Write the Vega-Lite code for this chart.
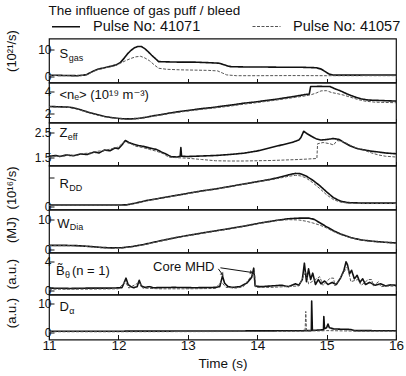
{
"$schema": "https://vega.github.io/schema/vega-lite/v6.json",
"padding": {"left": 4, "top": 3.5, "right": 4, "bottom": 2},
"title": {"text": "The influence of gas puff / bleed", "anchor": "start", "dx": 44, "fontSize": 13.5, "fontWeight": "normal", "font": "Liberation Sans", "color": "#111", "offset": -5.5},
"spacing": 0,
"bounds": "flush",
"datasets": {
"sgas": [
{"pulse":"41071","t":11.0,"v":0.5},{"pulse":"41071","t":11.2,"v":0.4},{"pulse":"41071","t":11.4,"v":0.3},{"pulse":"41071","t":11.5,"v":0.5},{"pulse":"41071","t":11.55,"v":0.8},{"pulse":"41071","t":11.62,"v":1.8},{"pulse":"41071","t":11.7,"v":2.7},{"pulse":"41071","t":11.8,"v":3.3},{"pulse":"41071","t":11.9,"v":3.9},{"pulse":"41071","t":11.97,"v":4.4},{"pulse":"41071","t":12.03,"v":5.3},{"pulse":"41071","t":12.08,"v":6.8},{"pulse":"41071","t":12.13,"v":8.5},{"pulse":"41071","t":12.18,"v":9.8},{"pulse":"41071","t":12.23,"v":10.8},{"pulse":"41071","t":12.28,"v":11.3},{"pulse":"41071","t":12.33,"v":11.3},{"pulse":"41071","t":12.38,"v":10.5},{"pulse":"41071","t":12.43,"v":9.3},{"pulse":"41071","t":12.48,"v":8.0},{"pulse":"41071","t":12.53,"v":6.8},{"pulse":"41071","t":12.58,"v":5.6},{"pulse":"41071","t":12.7,"v":5.5},{"pulse":"41071","t":12.9,"v":5.4},{"pulse":"41071","t":13.1,"v":5.4},{"pulse":"41071","t":13.3,"v":5.2},{"pulse":"41071","t":13.45,"v":5.0},{"pulse":"41071","t":13.5,"v":4.6},{"pulse":"41071","t":13.57,"v":4.0},{"pulse":"41071","t":13.62,"v":3.7},{"pulse":"41071","t":13.8,"v":3.6},{"pulse":"41071","t":14.0,"v":3.6},{"pulse":"41071","t":14.3,"v":3.5},{"pulse":"41071","t":14.6,"v":3.5},{"pulse":"41071","t":14.85,"v":3.3},{"pulse":"41071","t":14.92,"v":2.8},{"pulse":"41071","t":14.97,"v":2.0},{"pulse":"41071","t":15.03,"v":1.0},{"pulse":"41071","t":15.1,"v":0.5},{"pulse":"41071","t":15.3,"v":0.5},{"pulse":"41071","t":15.6,"v":0.55},{"pulse":"41071","t":16.0,"v":0.55},
{"pulse":"41057","t":11.0,"v":0.4},{"pulse":"41057","t":11.2,"v":0.3},{"pulse":"41057","t":11.4,"v":0.25},{"pulse":"41057","t":11.5,"v":0.4},{"pulse":"41057","t":11.55,"v":0.7},{"pulse":"41057","t":11.62,"v":1.7},{"pulse":"41057","t":11.7,"v":2.6},{"pulse":"41057","t":11.8,"v":3.2},{"pulse":"41057","t":11.9,"v":3.8},{"pulse":"41057","t":11.97,"v":4.2},{"pulse":"41057","t":12.03,"v":5.0},{"pulse":"41057","t":12.1,"v":5.9},{"pulse":"41057","t":12.18,"v":6.8},{"pulse":"41057","t":12.25,"v":7.4},{"pulse":"41057","t":12.32,"v":7.6},{"pulse":"41057","t":12.38,"v":7.0},{"pulse":"41057","t":12.45,"v":5.9},{"pulse":"41057","t":12.52,"v":4.3},{"pulse":"41057","t":12.58,"v":3.1},{"pulse":"41057","t":12.7,"v":2.7},{"pulse":"41057","t":12.9,"v":2.5},{"pulse":"41057","t":13.1,"v":2.4},{"pulse":"41057","t":13.3,"v":2.3},{"pulse":"41057","t":13.43,"v":2.1},{"pulse":"41057","t":13.5,"v":1.3},{"pulse":"41057","t":13.56,"v":0.6},{"pulse":"41057","t":13.7,"v":0.3},{"pulse":"41057","t":14.0,"v":0.3},{"pulse":"41057","t":14.5,"v":0.35},{"pulse":"41057","t":15.0,"v":0.3},{"pulse":"41057","t":15.5,"v":0.3},{"pulse":"41057","t":16.0,"v":0.3}
],
"ne": [
{"pulse":"41071","t":11.0,"v":2.65},{"pulse":"41071","t":11.15,"v":2.62},{"pulse":"41071","t":11.3,"v":2.58},{"pulse":"41071","t":11.4,"v":2.45},{"pulse":"41071","t":11.5,"v":2.25},{"pulse":"41071","t":11.6,"v":2.05},{"pulse":"41071","t":11.7,"v":1.88},{"pulse":"41071","t":11.8,"v":1.72},{"pulse":"41071","t":11.9,"v":1.62},{"pulse":"41071","t":12.0,"v":1.54},{"pulse":"41071","t":12.1,"v":1.5},{"pulse":"41071","t":12.2,"v":1.5},{"pulse":"41071","t":12.3,"v":1.55},{"pulse":"41071","t":12.4,"v":1.65},{"pulse":"41071","t":12.5,"v":1.78},{"pulse":"41071","t":12.6,"v":1.88},{"pulse":"41071","t":12.75,"v":2.05},{"pulse":"41071","t":12.9,"v":2.2},{"pulse":"41071","t":13.05,"v":2.32},{"pulse":"41071","t":13.2,"v":2.45},{"pulse":"41071","t":13.35,"v":2.55},{"pulse":"41071","t":13.5,"v":2.68},{"pulse":"41071","t":13.65,"v":2.8},{"pulse":"41071","t":13.8,"v":2.95},{"pulse":"41071","t":13.95,"v":3.05},{"pulse":"41071","t":14.1,"v":3.18},{"pulse":"41071","t":14.25,"v":3.3},{"pulse":"41071","t":14.4,"v":3.45},{"pulse":"41071","t":14.55,"v":3.6},{"pulse":"41071","t":14.68,"v":3.75},{"pulse":"41071","t":14.75,"v":3.8},{"pulse":"41071","t":14.77,"v":4.5},{"pulse":"41071","t":14.9,"v":4.52},{"pulse":"41071","t":15.05,"v":4.5},{"pulse":"41071","t":15.12,"v":4.3},{"pulse":"41071","t":15.2,"v":4.1},{"pulse":"41071","t":15.3,"v":3.8},{"pulse":"41071","t":15.4,"v":3.55},{"pulse":"41071","t":15.5,"v":3.35},{"pulse":"41071","t":15.6,"v":3.25},{"pulse":"41071","t":15.8,"v":3.2},{"pulse":"41071","t":16.0,"v":3.15},
{"pulse":"41057","t":11.0,"v":2.62},{"pulse":"41057","t":11.15,"v":2.6},{"pulse":"41057","t":11.3,"v":2.55},{"pulse":"41057","t":11.4,"v":2.42},{"pulse":"41057","t":11.5,"v":2.22},{"pulse":"41057","t":11.6,"v":2.02},{"pulse":"41057","t":11.7,"v":1.85},{"pulse":"41057","t":11.8,"v":1.7},{"pulse":"41057","t":11.9,"v":1.6},{"pulse":"41057","t":12.0,"v":1.52},{"pulse":"41057","t":12.1,"v":1.48},{"pulse":"41057","t":12.2,"v":1.49},{"pulse":"41057","t":12.3,"v":1.53},{"pulse":"41057","t":12.4,"v":1.62},{"pulse":"41057","t":12.5,"v":1.74},{"pulse":"41057","t":12.6,"v":1.84},{"pulse":"41057","t":12.75,"v":2.0},{"pulse":"41057","t":12.9,"v":2.14},{"pulse":"41057","t":13.05,"v":2.26},{"pulse":"41057","t":13.2,"v":2.38},{"pulse":"41057","t":13.35,"v":2.48},{"pulse":"41057","t":13.5,"v":2.6},{"pulse":"41057","t":13.65,"v":2.72},{"pulse":"41057","t":13.8,"v":2.86},{"pulse":"41057","t":13.95,"v":2.97},{"pulse":"41057","t":14.1,"v":3.1},{"pulse":"41057","t":14.25,"v":3.22},{"pulse":"41057","t":14.4,"v":3.36},{"pulse":"41057","t":14.55,"v":3.5},{"pulse":"41057","t":14.68,"v":3.62},{"pulse":"41057","t":14.78,"v":3.75},{"pulse":"41057","t":14.85,"v":3.9},{"pulse":"41057","t":14.92,"v":4.1},{"pulse":"41057","t":15.0,"v":4.12},{"pulse":"41057","t":15.07,"v":3.95},{"pulse":"41057","t":15.15,"v":3.85},{"pulse":"41057","t":15.25,"v":3.7},{"pulse":"41057","t":15.35,"v":3.5},{"pulse":"41057","t":15.45,"v":3.3},{"pulse":"41057","t":15.55,"v":3.15},{"pulse":"41057","t":15.7,"v":3.05},{"pulse":"41057","t":16.0,"v":3.0}
],
"zeff": [
{"pulse":"41071","t":11.0,"v":1.55},{"pulse":"41071","t":11.1,"v":1.58},{"pulse":"41071","t":11.15,"v":1.54},{"pulse":"41071","t":11.25,"v":1.6},{"pulse":"41071","t":11.35,"v":1.57},{"pulse":"41071","t":11.45,"v":1.64},{"pulse":"41071","t":11.55,"v":1.62},{"pulse":"41071","t":11.65,"v":1.72},{"pulse":"41071","t":11.72,"v":1.68},{"pulse":"41071","t":11.8,"v":1.8},{"pulse":"41071","t":11.88,"v":1.77},{"pulse":"41071","t":11.95,"v":1.88},{"pulse":"41071","t":12.0,"v":1.85},{"pulse":"41071","t":12.05,"v":2.0},{"pulse":"41071","t":12.1,"v":2.18},{"pulse":"41071","t":12.15,"v":2.1},{"pulse":"41071","t":12.2,"v":2.05},{"pulse":"41071","t":12.28,"v":1.98},{"pulse":"41071","t":12.35,"v":1.95},{"pulse":"41071","t":12.45,"v":1.88},{"pulse":"41071","t":12.55,"v":1.82},{"pulse":"41071","t":12.62,"v":1.72},{"pulse":"41071","t":12.7,"v":1.62},{"pulse":"41071","t":12.76,"v":1.53},{"pulse":"41071","t":12.85,"v":1.52},{"pulse":"41071","t":12.89,"v":1.55},{"pulse":"41071","t":12.9,"v":1.9},{"pulse":"41071","t":12.91,"v":1.55},{"pulse":"41071","t":13.0,"v":1.54},{"pulse":"41071","t":13.2,"v":1.56},{"pulse":"41071","t":13.4,"v":1.58},{"pulse":"41071","t":13.6,"v":1.62},{"pulse":"41071","t":13.8,"v":1.67},{"pulse":"41071","t":14.0,"v":1.76},{"pulse":"41071","t":14.2,"v":1.9},{"pulse":"41071","t":14.35,"v":2.0},{"pulse":"41071","t":14.5,"v":2.1},{"pulse":"41071","t":14.6,"v":2.2},{"pulse":"41071","t":14.63,"v":2.3},{"pulse":"41071","t":14.67,"v":2.55},{"pulse":"41071","t":14.72,"v":2.45},{"pulse":"41071","t":14.78,"v":2.35},{"pulse":"41071","t":14.85,"v":2.25},{"pulse":"41071","t":14.92,"v":2.2},{"pulse":"41071","t":15.0,"v":2.22},{"pulse":"41071","t":15.1,"v":2.26},{"pulse":"41071","t":15.18,"v":2.22},{"pulse":"41071","t":15.25,"v":2.1},{"pulse":"41071","t":15.35,"v":1.95},{"pulse":"41071","t":15.45,"v":1.85},{"pulse":"41071","t":15.55,"v":1.8},{"pulse":"41071","t":15.65,"v":1.75},{"pulse":"41071","t":15.75,"v":1.72},{"pulse":"41071","t":15.85,"v":1.68},{"pulse":"41071","t":16.0,"v":1.65},
{"pulse":"41057","t":11.0,"v":1.5},{"pulse":"41057","t":11.1,"v":1.56},{"pulse":"41057","t":11.2,"v":1.55},{"pulse":"41057","t":11.3,"v":1.6},{"pulse":"41057","t":11.4,"v":1.58},{"pulse":"41057","t":11.5,"v":1.66},{"pulse":"41057","t":11.6,"v":1.68},{"pulse":"41057","t":11.7,"v":1.75},{"pulse":"41057","t":11.8,"v":1.78},{"pulse":"41057","t":11.9,"v":1.85},{"pulse":"41057","t":12.0,"v":1.92},{"pulse":"41057","t":12.05,"v":2.05},{"pulse":"41057","t":12.1,"v":2.12},{"pulse":"41057","t":12.18,"v":2.05},{"pulse":"41057","t":12.25,"v":1.95},{"pulse":"41057","t":12.35,"v":1.9},{"pulse":"41057","t":12.45,"v":1.82},{"pulse":"41057","t":12.55,"v":1.75},{"pulse":"41057","t":12.65,"v":1.65},{"pulse":"41057","t":12.72,"v":1.52},{"pulse":"41057","t":12.8,"v":1.5},{"pulse":"41057","t":13.0,"v":1.47},{"pulse":"41057","t":13.2,"v":1.42},{"pulse":"41057","t":13.4,"v":1.37},{"pulse":"41057","t":13.6,"v":1.36},{"pulse":"41057","t":13.8,"v":1.36},{"pulse":"41057","t":14.0,"v":1.37},{"pulse":"41057","t":14.2,"v":1.38},{"pulse":"41057","t":14.4,"v":1.4},{"pulse":"41057","t":14.6,"v":1.42},{"pulse":"41057","t":14.8,"v":1.45},{"pulse":"41057","t":14.86,"v":1.46},{"pulse":"41057","t":14.87,"v":2.05},{"pulse":"41057","t":14.95,"v":2.1},{"pulse":"41057","t":15.05,"v":2.05},{"pulse":"41057","t":15.1,"v":2.0},{"pulse":"41057","t":15.15,"v":2.18},{"pulse":"41057","t":15.25,"v":2.12},{"pulse":"41057","t":15.35,"v":1.98},{"pulse":"41057","t":15.45,"v":1.85},{"pulse":"41057","t":15.55,"v":1.78},{"pulse":"41057","t":15.65,"v":1.68},{"pulse":"41057","t":15.75,"v":1.6},{"pulse":"41057","t":15.85,"v":1.55},{"pulse":"41057","t":16.0,"v":1.52}
],
"rdd": [
{"pulse":"41071","t":11.0,"v":0.2},{"pulse":"41071","t":11.5,"v":0.2},{"pulse":"41071","t":12.0,"v":0.2},{"pulse":"41071","t":12.12,"v":0.22},{"pulse":"41071","t":12.25,"v":0.4},{"pulse":"41071","t":12.4,"v":0.65},{"pulse":"41071","t":12.6,"v":0.9},{"pulse":"41071","t":12.8,"v":1.15},{"pulse":"41071","t":13.0,"v":1.4},{"pulse":"41071","t":13.2,"v":1.65},{"pulse":"41071","t":13.4,"v":1.85},{"pulse":"41071","t":13.6,"v":2.1},{"pulse":"41071","t":13.8,"v":2.35},{"pulse":"41071","t":14.0,"v":2.6},{"pulse":"41071","t":14.2,"v":2.85},{"pulse":"41071","t":14.35,"v":3.1},{"pulse":"41071","t":14.45,"v":3.3},{"pulse":"41071","t":14.55,"v":3.45},{"pulse":"41071","t":14.62,"v":3.42},{"pulse":"41071","t":14.7,"v":3.2},{"pulse":"41071","t":14.8,"v":2.75},{"pulse":"41071","t":14.9,"v":2.2},{"pulse":"41071","t":15.0,"v":1.55},{"pulse":"41071","t":15.1,"v":0.95},{"pulse":"41071","t":15.2,"v":0.6},{"pulse":"41071","t":15.3,"v":0.45},{"pulse":"41071","t":15.5,"v":0.4},{"pulse":"41071","t":16.0,"v":0.4},
{"pulse":"41057","t":11.0,"v":0.15},{"pulse":"41057","t":12.0,"v":0.15},{"pulse":"41057","t":12.12,"v":0.2},{"pulse":"41057","t":12.25,"v":0.38},{"pulse":"41057","t":12.4,"v":0.62},{"pulse":"41057","t":12.6,"v":0.88},{"pulse":"41057","t":12.8,"v":1.12},{"pulse":"41057","t":13.0,"v":1.37},{"pulse":"41057","t":13.2,"v":1.62},{"pulse":"41057","t":13.4,"v":1.82},{"pulse":"41057","t":13.6,"v":2.07},{"pulse":"41057","t":13.8,"v":2.32},{"pulse":"41057","t":14.0,"v":2.57},{"pulse":"41057","t":14.2,"v":2.8},{"pulse":"41057","t":14.35,"v":3.0},{"pulse":"41057","t":14.45,"v":3.15},{"pulse":"41057","t":14.55,"v":3.25},{"pulse":"41057","t":14.62,"v":3.2},{"pulse":"41057","t":14.7,"v":3.0},{"pulse":"41057","t":14.8,"v":2.5},{"pulse":"41057","t":14.9,"v":1.9},{"pulse":"41057","t":15.0,"v":1.25},{"pulse":"41057","t":15.1,"v":0.75},{"pulse":"41057","t":15.2,"v":0.5},{"pulse":"41057","t":15.3,"v":0.4},{"pulse":"41057","t":15.5,"v":0.35},{"pulse":"41057","t":16.0,"v":0.35}
],
"wdia": [
{"pulse":"41071","t":11.0,"v":1.4},{"pulse":"41071","t":11.2,"v":1.4},{"pulse":"41071","t":11.4,"v":1.3},{"pulse":"41071","t":11.6,"v":1.0},{"pulse":"41071","t":11.75,"v":0.7},{"pulse":"41071","t":11.9,"v":0.55},{"pulse":"41071","t":12.05,"v":0.6},{"pulse":"41071","t":12.2,"v":1.0},{"pulse":"41071","t":12.37,"v":1.7},{"pulse":"41071","t":12.6,"v":2.9},{"pulse":"41071","t":12.85,"v":4.1},{"pulse":"41071","t":13.1,"v":5.1},{"pulse":"41071","t":13.33,"v":6.0},{"pulse":"41071","t":13.6,"v":7.0},{"pulse":"41071","t":13.8,"v":7.8},{"pulse":"41071","t":14.05,"v":8.9},{"pulse":"41071","t":14.29,"v":9.8},{"pulse":"41071","t":14.45,"v":10.3},{"pulse":"41071","t":14.6,"v":10.5},{"pulse":"41071","t":14.75,"v":10.5},{"pulse":"41071","t":14.82,"v":10.1},{"pulse":"41071","t":14.9,"v":9.0},{"pulse":"41071","t":15.0,"v":7.6},{"pulse":"41071","t":15.1,"v":6.3},{"pulse":"41071","t":15.2,"v":5.2},{"pulse":"41071","t":15.35,"v":4.0},{"pulse":"41071","t":15.5,"v":3.2},{"pulse":"41071","t":15.65,"v":2.8},{"pulse":"41071","t":15.8,"v":2.5},{"pulse":"41071","t":16.0,"v":2.2},
{"pulse":"41057","t":11.0,"v":1.3},{"pulse":"41057","t":11.2,"v":1.3},{"pulse":"41057","t":11.4,"v":1.2},{"pulse":"41057","t":11.6,"v":0.9},{"pulse":"41057","t":11.75,"v":0.6},{"pulse":"41057","t":11.9,"v":0.45},{"pulse":"41057","t":12.05,"v":0.5},{"pulse":"41057","t":12.2,"v":0.9},{"pulse":"41057","t":12.37,"v":1.6},{"pulse":"41057","t":12.6,"v":2.8},{"pulse":"41057","t":12.85,"v":4.0},{"pulse":"41057","t":13.1,"v":5.0},{"pulse":"41057","t":13.33,"v":5.9},{"pulse":"41057","t":13.6,"v":6.9},{"pulse":"41057","t":13.8,"v":7.7},{"pulse":"41057","t":14.05,"v":8.8},{"pulse":"41057","t":14.29,"v":9.7},{"pulse":"41057","t":14.45,"v":10.0},{"pulse":"41057","t":14.6,"v":9.9},{"pulse":"41057","t":14.7,"v":9.5},{"pulse":"41057","t":14.8,"v":8.9},{"pulse":"41057","t":14.9,"v":8.2},{"pulse":"41057","t":15.0,"v":7.2},{"pulse":"41057","t":15.1,"v":6.0},{"pulse":"41057","t":15.2,"v":5.0},{"pulse":"41057","t":15.35,"v":3.9},{"pulse":"41057","t":15.5,"v":3.1},{"pulse":"41057","t":15.65,"v":2.7},{"pulse":"41057","t":15.8,"v":2.4},{"pulse":"41057","t":16.0,"v":2.1}
],
"bth": [
{"pulse":"41071","t":11.0,"v":0.3},{"pulse":"41071","t":11.3,"v":0.25},{"pulse":"41071","t":11.6,"v":0.3},{"pulse":"41071","t":11.9,"v":0.3},{"pulse":"41071","t":12.05,"v":0.35},{"pulse":"41071","t":12.08,"v":1.0},{"pulse":"41071","t":12.11,"v":1.7},{"pulse":"41071","t":12.14,"v":0.8},{"pulse":"41071","t":12.18,"v":0.5},{"pulse":"41071","t":12.22,"v":0.35},{"pulse":"41071","t":12.27,"v":0.5},{"pulse":"41071","t":12.3,"v":1.4},{"pulse":"41071","t":12.33,"v":0.6},{"pulse":"41071","t":12.38,"v":0.4},{"pulse":"41071","t":12.45,"v":0.5},{"pulse":"41071","t":12.5,"v":0.35},{"pulse":"41071","t":12.8,"v":0.4},{"pulse":"41071","t":13.1,"v":0.35},{"pulse":"41071","t":13.4,"v":0.4},{"pulse":"41071","t":13.46,"v":0.5},{"pulse":"41071","t":13.5,"v":2.0},{"pulse":"41071","t":13.53,"v":1.0},{"pulse":"41071","t":13.58,"v":0.5},{"pulse":"41071","t":13.65,"v":0.4},{"pulse":"41071","t":13.75,"v":0.5},{"pulse":"41071","t":13.85,"v":1.0},{"pulse":"41071","t":13.92,"v":1.8},{"pulse":"41071","t":13.95,"v":3.1},{"pulse":"41071","t":13.97,"v":0.6},{"pulse":"41071","t":14.05,"v":0.5},{"pulse":"41071","t":14.2,"v":0.6},{"pulse":"41071","t":14.35,"v":0.7},{"pulse":"41071","t":14.45,"v":0.5},{"pulse":"41071","t":14.55,"v":0.9},{"pulse":"41071","t":14.6,"v":0.7},{"pulse":"41071","t":14.65,"v":1.5},{"pulse":"41071","t":14.68,"v":3.8},{"pulse":"41071","t":14.71,"v":1.2},{"pulse":"41071","t":14.74,"v":3.0},{"pulse":"41071","t":14.77,"v":1.5},{"pulse":"41071","t":14.8,"v":2.4},{"pulse":"41071","t":14.84,"v":0.8},{"pulse":"41071","t":14.88,"v":1.5},{"pulse":"41071","t":14.92,"v":0.9},{"pulse":"41071","t":14.97,"v":1.3},{"pulse":"41071","t":15.02,"v":0.8},{"pulse":"41071","t":15.08,"v":1.1},{"pulse":"41071","t":15.14,"v":0.8},{"pulse":"41071","t":15.2,"v":1.7},{"pulse":"41071","t":15.25,"v":2.8},{"pulse":"41071","t":15.28,"v":4.0},{"pulse":"41071","t":15.3,"v":3.6},{"pulse":"41071","t":15.33,"v":2.3},{"pulse":"41071","t":15.36,"v":2.8},{"pulse":"41071","t":15.4,"v":1.6},{"pulse":"41071","t":15.44,"v":2.1},{"pulse":"41071","t":15.48,"v":1.1},{"pulse":"41071","t":15.52,"v":1.6},{"pulse":"41071","t":15.56,"v":0.8},{"pulse":"41071","t":15.62,"v":1.1},{"pulse":"41071","t":15.7,"v":0.7},{"pulse":"41071","t":15.78,"v":0.9},{"pulse":"41071","t":15.85,"v":0.6},{"pulse":"41071","t":15.92,"v":0.75},{"pulse":"41071","t":16.0,"v":0.7},
{"pulse":"41057","t":11.0,"v":0.15},{"pulse":"41057","t":11.5,"v":0.15},{"pulse":"41057","t":12.0,"v":0.2},{"pulse":"41057","t":12.1,"v":1.2},{"pulse":"41057","t":12.15,"v":0.3},{"pulse":"41057","t":12.3,"v":1.1},{"pulse":"41057","t":12.35,"v":0.3},{"pulse":"41057","t":12.6,"v":0.2},{"pulse":"41057","t":13.0,"v":0.2},{"pulse":"41057","t":13.4,"v":0.25},{"pulse":"41057","t":13.48,"v":1.2},{"pulse":"41057","t":13.55,"v":0.4},{"pulse":"41057","t":13.7,"v":0.3},{"pulse":"41057","t":13.8,"v":0.5},{"pulse":"41057","t":13.9,"v":1.8},{"pulse":"41057","t":13.96,"v":2.6},{"pulse":"41057","t":13.98,"v":0.4},{"pulse":"41057","t":14.2,"v":0.4},{"pulse":"41057","t":14.4,"v":0.5},{"pulse":"41057","t":14.6,"v":0.6},{"pulse":"41057","t":14.7,"v":2.6},{"pulse":"41057","t":14.74,"v":0.9},{"pulse":"41057","t":14.9,"v":1.9},{"pulse":"41057","t":14.95,"v":0.7},{"pulse":"41057","t":15.05,"v":1.7},{"pulse":"41057","t":15.1,"v":1.7},{"pulse":"41057","t":15.12,"v":0.6},{"pulse":"41057","t":15.3,"v":3.3},{"pulse":"41057","t":15.35,"v":1.2},{"pulse":"41057","t":15.45,"v":1.5},{"pulse":"41057","t":15.5,"v":0.7},{"pulse":"41057","t":15.6,"v":1.5},{"pulse":"41057","t":15.65,"v":1.5},{"pulse":"41057","t":15.67,"v":0.6},{"pulse":"41057","t":15.75,"v":1.2},{"pulse":"41057","t":15.78,"v":0.5},{"pulse":"41057","t":15.9,"v":0.6},{"pulse":"41057","t":16.0,"v":0.55}
],
"dalpha": [
{"pulse":"41071","t":11.0,"v":0.3},{"pulse":"41071","t":12.0,"v":0.3},{"pulse":"41071","t":13.0,"v":0.35},{"pulse":"41071","t":14.0,"v":0.4},{"pulse":"41071","t":14.5,"v":0.45},{"pulse":"41071","t":14.78,"v":0.5},{"pulse":"41071","t":14.785,"v":10.8},{"pulse":"41071","t":14.795,"v":0.6},{"pulse":"41071","t":14.9,"v":0.7},{"pulse":"41071","t":14.955,"v":0.8},{"pulse":"41071","t":14.96,"v":5.4},{"pulse":"41071","t":14.97,"v":1.2},{"pulse":"41071","t":15.0,"v":1.5},{"pulse":"41071","t":15.02,"v":2.8},{"pulse":"41071","t":15.04,"v":1.5},{"pulse":"41071","t":15.1,"v":1.1},{"pulse":"41071","t":15.2,"v":1.0},{"pulse":"41071","t":15.35,"v":0.9},{"pulse":"41071","t":15.4,"v":0.5},{"pulse":"41071","t":16.0,"v":0.45},
{"pulse":"41057","t":11.0,"v":0.1},{"pulse":"41057","t":12.0,"v":0.1},{"pulse":"41057","t":13.0,"v":0.15},{"pulse":"41057","t":14.0,"v":0.2},{"pulse":"41057","t":14.69,"v":0.3},{"pulse":"41057","t":14.7,"v":7.2},{"pulse":"41057","t":14.71,"v":0.4},{"pulse":"41057","t":14.9,"v":0.4},{"pulse":"41057","t":15.0,"v":0.5},{"pulse":"41057","t":15.5,"v":0.3},{"pulse":"41057","t":16.0,"v":0.3}
],
"labels": [
{"panel":"sgas","t":11.15,"v":8.4,"label":"S"},
{"panel":"ne","t":11.15,"v":3.72,"label":"<nₑ> (10¹⁹ m⁻³)"},
{"panel":"zeff","t":11.15,"v":2.5,"label":"Z"},
{"panel":"rdd","t":11.15,"v":2.4,"label":"R"},
{"panel":"wdia","t":11.12,"v":8.7,"label":"W"},
{"panel":"bth","t":11.1,"v":2.7,"label":"B̃"},
{"panel":"bth","t":11.33,"v":2.7,"label":"(n = 1)"},
{"panel":"bth","t":12.5,"v":3.2,"label":"Core MHD"},
{"panel":"dalpha","t":11.15,"v":8.7,"label":"D"}
],
"subs": [
{"panel":"sgas","t":11.285,"v":7.0,"label":"gas"},
{"panel":"zeff","t":11.27,"v":2.33,"label":"eff"},
{"panel":"rdd","t":11.29,"v":2.0,"label":"DD"},
{"panel":"wdia","t":11.3,"v":7.5,"label":"Dia"},
{"panel":"bth","t":11.23,"v":2.1,"label":"θ"},
{"panel":"dalpha","t":11.29,"v":7.3,"label":"α"}
],
"arrows": [
{"t":13.44,"v":3.0,"t2":13.5,"v2":2.2},
{"t":13.47,"v":3.15,"t2":13.92,"v2":2.5}
]
},
"vconcat": [
{"width": 347, "height": 44,
 "layer": [
  {"data": {"name": "sgas"}, "mark": {"type": "line", "clip": true, "strokeJoin": "round"},
   "encoding": {
    "x": {"field": "t", "type": "quantitative", "scale": {"domain": [11, 16], "nice": false}, "axis": {"values": [11,12,13,14,15,16], "labels": false, "title": null, "tickSize": -4}},
    "y": {"field": "v", "type": "quantitative", "scale": {"domain": [-2.26, 14.3], "nice": false, "zero": false}, "axis": {"values": [0,5,10], "labelExpr": "datum.value == 5 ? '' : datum.label", "title": "(10²¹/s)", "titleX": -38, "titleY": 12}},
    "color": {"field": "pulse", "type": "nominal", "scale": {"domain": ["41071","41057"], "range": ["#111111","#555555"]}, "legend": {"title": null, "labelExpr": "'Pulse No: ' + datum.label"}},
    "strokeDash": {"field": "pulse", "type": "nominal", "scale": {"domain": ["41071","41057"], "range": [[1,0],[3,1.5]]}},
    "strokeWidth": {"field": "pulse", "type": "ordinal", "scale": {"domain": ["41071","41057"], "range": [1.6, 1.0]}}
   }},
  {"data": {"name": "labels"}, "transform": [{"filter": "datum.panel == 'sgas'"}], "mark": {"type": "text", "align": "left", "baseline": "middle", "fontSize": 13},
   "encoding": {"x": {"field": "t", "type": "quantitative"}, "y": {"field": "v", "type": "quantitative"}, "text": {"field": "label"}}},
  {"data": {"name": "subs"}, "transform": [{"filter": "datum.panel == 'sgas'"}], "mark": {"type": "text", "align": "left", "baseline": "middle", "fontSize": 9},
   "encoding": {"x": {"field": "t", "type": "quantitative"}, "y": {"field": "v", "type": "quantitative"}, "text": {"field": "label"}}}
 ]},
{"width": 347, "height": 40,
 "layer": [
  {"data": {"name": "ne"}, "mark": {"type": "line", "clip": true, "strokeJoin": "round"},
   "encoding": {
    "x": {"field": "t", "type": "quantitative", "scale": {"domain": [11, 16], "nice": false}, "axis": {"values": [11,12,13,14,15,16], "labels": false, "title": null, "tickSize": -4}},
    "y": {"field": "v", "type": "quantitative", "scale": {"domain": [1.16, 4.88], "nice": false, "zero": false}, "axis": {"values": [2,3,4], "labelExpr": "datum.value == 3 ? '' : datum.label", "title": null}},
    "color": {"field": "pulse", "type": "nominal", "scale": {"domain": ["41071","41057"], "range": ["#111111","#555555"]}, "legend": {"title": null, "labelExpr": "'Pulse No: ' + datum.label"}},
    "strokeDash": {"field": "pulse", "type": "nominal", "scale": {"domain": ["41071","41057"], "range": [[1,0],[3,1.5]]}},
    "strokeWidth": {"field": "pulse", "type": "ordinal", "scale": {"domain": ["41071","41057"], "range": [1.6, 1.0]}}
   }},
  {"data": {"name": "labels"}, "transform": [{"filter": "datum.panel == 'ne'"}], "mark": {"type": "text", "align": "left", "baseline": "middle", "fontSize": 13, "font": "Liberation Sans, DejaVu Sans"},
   "encoding": {"x": {"field": "t", "type": "quantitative"}, "y": {"field": "v", "type": "quantitative"}, "text": {"field": "label"}}}
 ]},
{"width": 347, "height": 43,
 "layer": [
  {"data": {"name": "zeff"}, "mark": {"type": "line", "clip": true, "strokeJoin": "round"},
   "encoding": {
    "x": {"field": "t", "type": "quantitative", "scale": {"domain": [11, 16], "nice": false}, "axis": {"values": [11,12,13,14,15,16], "labels": false, "title": null, "tickSize": -4}},
    "y": {"field": "v", "type": "quantitative", "scale": {"domain": [1.18, 2.9], "nice": false, "zero": false}, "axis": {"values": [1.5,2,2.5], "format": ".1f", "labelExpr": "datum.value == 2 ? '' : datum.label", "title": null}},
    "color": {"field": "pulse", "type": "nominal", "scale": {"domain": ["41071","41057"], "range": ["#111111","#555555"]}, "legend": {"title": null, "labelExpr": "'Pulse No: ' + datum.label"}},
    "strokeDash": {"field": "pulse", "type": "nominal", "scale": {"domain": ["41071","41057"], "range": [[1,0],[3,1.5]]}},
    "strokeWidth": {"field": "pulse", "type": "ordinal", "scale": {"domain": ["41071","41057"], "range": [1.6, 1.0]}}
   }},
  {"data": {"name": "labels"}, "transform": [{"filter": "datum.panel == 'zeff'"}], "mark": {"type": "text", "align": "left", "baseline": "middle", "fontSize": 13},
   "encoding": {"x": {"field": "t", "type": "quantitative"}, "y": {"field": "v", "type": "quantitative"}, "text": {"field": "label"}}},
  {"data": {"name": "subs"}, "transform": [{"filter": "datum.panel == 'zeff'"}], "mark": {"type": "text", "align": "left", "baseline": "middle", "fontSize": 9},
   "encoding": {"x": {"field": "t", "type": "quantitative"}, "y": {"field": "v", "type": "quantitative"}, "text": {"field": "label"}}}
 ]},
{"width": 347, "height": 44,
 "layer": [
  {"data": {"name": "rdd"}, "mark": {"type": "line", "clip": true, "strokeJoin": "round"},
   "encoding": {
    "x": {"field": "t", "type": "quantitative", "scale": {"domain": [11, 16], "nice": false}, "axis": {"values": [11,12,13,14,15,16], "labels": false, "title": null, "tickSize": -4}},
    "y": {"field": "v", "type": "quantitative", "scale": {"domain": [-0.26, 4.26], "nice": false, "zero": false}, "axis": {"values": [0,1,2,3], "labelExpr": "datum.value == 1 || datum.value == 3 ? '' : datum.label", "title": "(10¹⁶/s)", "titleX": -38, "titleY": 22}},
    "color": {"field": "pulse", "type": "nominal", "scale": {"domain": ["41071","41057"], "range": ["#111111","#555555"]}, "legend": {"title": null, "labelExpr": "'Pulse No: ' + datum.label"}},
    "strokeDash": {"field": "pulse", "type": "nominal", "scale": {"domain": ["41071","41057"], "range": [[1,0],[3,1.5]]}},
    "strokeWidth": {"field": "pulse", "type": "ordinal", "scale": {"domain": ["41071","41057"], "range": [1.6, 1.0]}}
   }},
  {"data": {"name": "labels"}, "transform": [{"filter": "datum.panel == 'rdd'"}], "mark": {"type": "text", "align": "left", "baseline": "middle", "fontSize": 13},
   "encoding": {"x": {"field": "t", "type": "quantitative"}, "y": {"field": "v", "type": "quantitative"}, "text": {"field": "label"}}},
  {"data": {"name": "subs"}, "transform": [{"filter": "datum.panel == 'rdd'"}], "mark": {"type": "text", "align": "left", "baseline": "middle", "fontSize": 9},
   "encoding": {"x": {"field": "t", "type": "quantitative"}, "y": {"field": "v", "type": "quantitative"}, "text": {"field": "label"}}}
 ]},
{"width": 347, "height": 43,
 "layer": [
  {"data": {"name": "wdia"}, "mark": {"type": "line", "clip": true, "strokeJoin": "round"},
   "encoding": {
    "x": {"field": "t", "type": "quantitative", "scale": {"domain": [11, 16], "nice": false}, "axis": {"values": [11,12,13,14,15,16], "labels": false, "title": null, "tickSize": -4}},
    "y": {"field": "v", "type": "quantitative", "scale": {"domain": [-1.0, 13.4], "nice": false, "zero": false}, "axis": {"values": [0,5,10], "title": "(MJ)", "titleX": -38, "titleY": 20}},
    "color": {"field": "pulse", "type": "nominal", "scale": {"domain": ["41071","41057"], "range": ["#111111","#555555"]}, "legend": {"title": null, "labelExpr": "'Pulse No: ' + datum.label"}},
    "strokeDash": {"field": "pulse", "type": "nominal", "scale": {"domain": ["41071","41057"], "range": [[1,0],[3,1.5]]}},
    "strokeWidth": {"field": "pulse", "type": "ordinal", "scale": {"domain": ["41071","41057"], "range": [1.6, 1.0]}}
   }},
  {"data": {"name": "labels"}, "transform": [{"filter": "datum.panel == 'wdia'"}], "mark": {"type": "text", "align": "left", "baseline": "middle", "fontSize": 13},
   "encoding": {"x": {"field": "t", "type": "quantitative"}, "y": {"field": "v", "type": "quantitative"}, "text": {"field": "label"}}},
  {"data": {"name": "subs"}, "transform": [{"filter": "datum.panel == 'wdia'"}], "mark": {"type": "text", "align": "left", "baseline": "middle", "fontSize": 9},
   "encoding": {"x": {"field": "t", "type": "quantitative"}, "y": {"field": "v", "type": "quantitative"}, "text": {"field": "label"}}}
 ]},
{"width": 347, "height": 42,
 "layer": [
  {"data": {"name": "bth"}, "mark": {"type": "line", "clip": true, "strokeJoin": "round"},
   "encoding": {
    "x": {"field": "t", "type": "quantitative", "scale": {"domain": [11, 16], "nice": false}, "axis": {"values": [11,12,13,14,15,16], "labels": false, "title": null, "tickSize": -4}},
    "y": {"field": "v", "type": "quantitative", "scale": {"domain": [-0.6, 5.3], "nice": false, "zero": false}, "axis": {"values": [0,1,2,3,4], "labelExpr": "datum.value == 1 || datum.value == 3 ? '' : datum.label", "title": "(a.u.)", "titleX": -38, "titleY": 21}},
    "color": {"field": "pulse", "type": "nominal", "scale": {"domain": ["41071","41057"], "range": ["#111111","#555555"]}, "legend": {"title": null, "labelExpr": "'Pulse No: ' + datum.label"}},
    "strokeDash": {"field": "pulse", "type": "nominal", "scale": {"domain": ["41071","41057"], "range": [[1,0],[3,1.5]]}},
    "strokeWidth": {"field": "pulse", "type": "ordinal", "scale": {"domain": ["41071","41057"], "range": [1.6, 1.0]}}
   }},
  {"data": {"name": "labels"}, "transform": [{"filter": "datum.panel == 'bth'"}], "mark": {"type": "text", "align": "left", "baseline": "middle", "fontSize": 13},
   "encoding": {"x": {"field": "t", "type": "quantitative"}, "y": {"field": "v", "type": "quantitative"}, "text": {"field": "label"}}},
  {"data": {"name": "subs"}, "transform": [{"filter": "datum.panel == 'bth'"}], "mark": {"type": "text", "align": "left", "baseline": "middle", "fontSize": 9},
   "encoding": {"x": {"field": "t", "type": "quantitative"}, "y": {"field": "v", "type": "quantitative"}, "text": {"field": "label"}}},
  {"data": {"name": "arrows"}, "mark": {"type": "rule", "color": "#111", "strokeWidth": 1},
   "encoding": {"x": {"field": "t", "type": "quantitative"}, "y": {"field": "v", "type": "quantitative"}, "x2": {"field": "t2"}, "y2": {"field": "v2"}}},
  {"data": {"name": "arrows"}, "transform": [{"filter": "datum.t2 < 13.7"}], "mark": {"type": "point", "shape": "triangle-right", "filled": true, "color": "#111", "size": 18, "angle": 54},
   "encoding": {"x": {"field": "t2", "type": "quantitative"}, "y": {"field": "v2", "type": "quantitative"}}},
  {"data": {"name": "arrows"}, "transform": [{"filter": "datum.t2 > 13.7"}], "mark": {"type": "point", "shape": "triangle-right", "filled": true, "color": "#111", "size": 18, "angle": 9},
   "encoding": {"x": {"field": "t2", "type": "quantitative"}, "y": {"field": "v2", "type": "quantitative"}}}
 ]},
{"width": 347, "height": 45,
 "layer": [
  {"data": {"name": "dalpha"}, "mark": {"type": "line", "clip": true, "strokeJoin": "round"},
   "encoding": {
    "x": {"field": "t", "type": "quantitative", "scale": {"domain": [11, 16], "nice": false}, "axis": {"values": [11,12,13,14,15,16], "format": "d", "title": "Time (s)", "tickSize": -5, "labelPadding": 4, "titlePadding": 4, "labelFontSize": 13.5, "titleFontSize": 13.5}},
    "y": {"field": "v", "type": "quantitative", "scale": {"domain": [-2.6, 13.1], "nice": false, "zero": false}, "axis": {"values": [0,5,10], "title": "(a.u.)", "titleX": -38, "titleY": 18}},
    "color": {"field": "pulse", "type": "nominal", "scale": {"domain": ["41071","41057"], "range": ["#111111","#555555"]}, "legend": {"title": null, "labelExpr": "'Pulse No: ' + datum.label"}},
    "strokeDash": {"field": "pulse", "type": "nominal", "scale": {"domain": ["41071","41057"], "range": [[1,0],[3,1.5]]}},
    "strokeWidth": {"field": "pulse", "type": "ordinal", "scale": {"domain": ["41071","41057"], "range": [1.6, 1.0]}}
   }},
  {"data": {"name": "labels"}, "transform": [{"filter": "datum.panel == 'dalpha'"}], "mark": {"type": "text", "align": "left", "baseline": "middle", "fontSize": 13},
   "encoding": {"x": {"field": "t", "type": "quantitative"}, "y": {"field": "v", "type": "quantitative"}, "text": {"field": "label"}}},
  {"data": {"name": "subs"}, "transform": [{"filter": "datum.panel == 'dalpha'"}], "mark": {"type": "text", "align": "left", "baseline": "middle", "fontSize": 9},
   "encoding": {"x": {"field": "t", "type": "quantitative"}, "y": {"field": "v", "type": "quantitative"}, "text": {"field": "label"}}}
 ]}
],
"config": {
 "font": "Liberation Sans",
 "view": {"stroke": "#111", "strokeWidth": 1.2},
 "text": {"color": "#111", "font": "Liberation Sans"},
 "axis": {"domain": false, "grid": false, "labelFontSize": 12, "labelColor": "#111", "tickColor": "#111", "tickSize": -5, "labelPadding": 3, "titleFontSize": 13, "titleFontWeight": "normal", "titleColor": "#111", "titleFont": "Liberation Sans", "labelFont": "Liberation Sans", "labelFlush": false},
 "axisY": {"titleAngle": 270, "titleAlign": "center", "titleBaseline": "middle"},
 "legend": {"orient": "none", "legendX": 2, "legendY": -27, "direction": "horizontal", "symbolType": "stroke", "symbolSize": 784, "labelFontSize": 14.5, "labelFont": "Liberation Sans", "labelColor": "#111", "columnPadding": 49, "labelOffset": 12, "padding": 0}
}
}
